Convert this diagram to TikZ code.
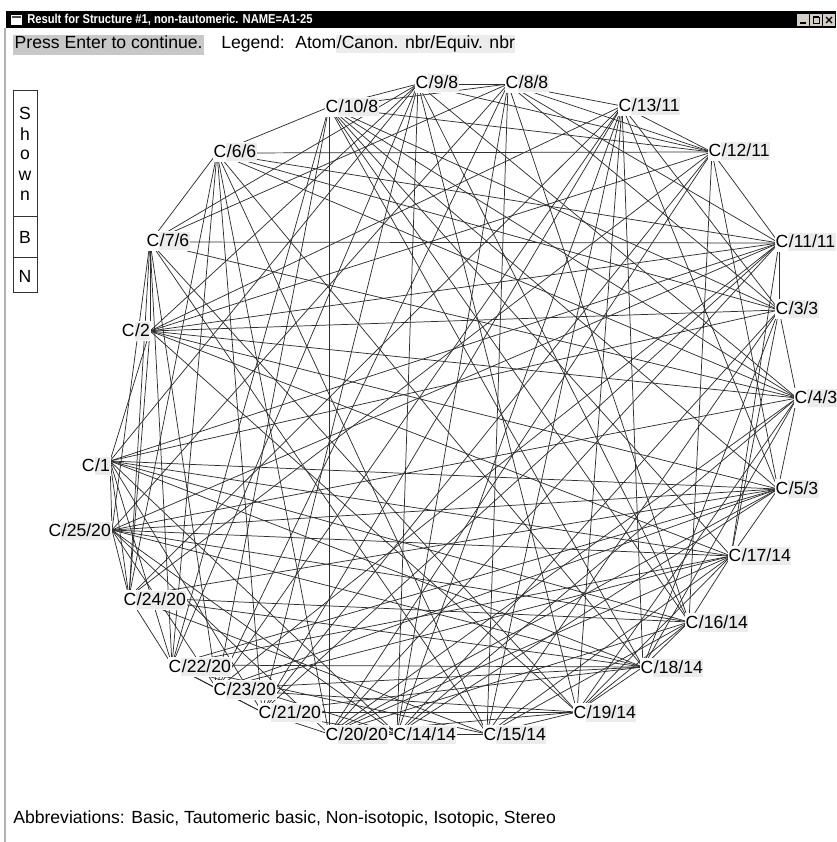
\documentclass[tikz,border=0pt]{standalone}
\usepackage{fontspec}
\setmainfont{Liberation Sans}
\usepackage{graphicx}
\definecolor{lg}{HTML}{ECECEC}
\definecolor{pg}{HTML}{C8C8C8}
\definecolor{bt}{HTML}{D4D0C8}
\newcommand{\gbx}[1]{{\setlength{\fboxsep}{0.4pt}\colorbox{lg}{\vrule height 10.4pt depth 2.6pt width 0pt #1}}}
\begin{document}
\begin{tikzpicture}[x=0.75pt,y=-0.75pt,
  every node/.style={font=\fontsize{13.2}{15}\selectfont, inner sep=0pt},
  edge/.style={draw=black!82, line width=0.55pt},
  lbl/.style={fill=white, inner sep=0.3pt},
  lw/.style={lbl, anchor=west},
  le/.style={lbl, anchor=east},
  letter/.style={anchor=center}]
\useasboundingbox (0,0) rectangle (836,842);
\fill[white] (0,0) rectangle (836,842);
% atom points
\coordinate (n9) at (418,84);
\coordinate (n8) at (508,84);
\coordinate (n10) at (329,107);
\coordinate (n13) at (622,106);
\coordinate (n6) at (217,153);
\coordinate (n12) at (712,152);
\coordinate (n7) at (150,242);
\coordinate (n11) at (779,243);
\coordinate (n3) at (779,310);
\coordinate (n2) at (150,331);
\coordinate (n4) at (797,398);
\coordinate (n1) at (110,461);
\coordinate (n5) at (778,489);
\coordinate (n25) at (112,530);
\coordinate (n17) at (731,556);
\coordinate (n24) at (129,597);
\coordinate (n16) at (689,622);
\coordinate (n22) at (172,665);
\coordinate (n18) at (643,667);
\coordinate (n23) at (217,689);
\coordinate (n19) at (577,712);
\coordinate (n21) at (262,712);
\coordinate (n20) at (329,734);
\coordinate (n14) at (397,734);
\coordinate (n15) at (487,734);
% bonds
\foreach \cl in {{9,4,2,19,7},{6,12,20,11,21},{13,15,8,14,3},{17,23,22,10,5},{25,1,18,24,16},
                 {9,12,8,10,16},{6,15,22,24,7},{13,23,18,19,21},{17,1,2,11,3},{25,4,20,14,5},
                 {9,1,22,14,21},{6,4,18,10,3},{13,12,2,24,5},{17,15,20,19,16},{25,23,8,11,7}}{
  \foreach \i in \cl {
    \foreach \j in \cl {
      \ifnum\i<\j \draw[edge] (n\i) -- (n\j); \fi
    }
  }
}
\foreach \a/\b in {10/20,1/5,25/17,22/18} \draw[edge] (n\a) -- (n\b);
% labels
\node[lw] (l9) at (415,83) {C\gbx{/9/8}};
\node[lw] (l8) at (505,83) {C\gbx{/8/8}};
\node[lw] (l10) at (325,107) {C\gbx{/10/8}};
\node[lw] (l13) at (618,106) {C\gbx{/13/11}};
\node[lw] (l6) at (213,152) {C\gbx{/6/6}};
\node[lw] (l12) at (708,151) {C\gbx{/12/11}};
\node[lw] (l7) at (146,241) {C\gbx{/7/6}};
\node[lw] (l11) at (775,242) {C\gbx{/11/11}};
\node[lw] (l3) at (775,309) {C\gbx{/3/3}};
\node[le] (l2) at (151,331) {C\gbx{/2}};
\node[lw] (l4) at (794,398) {C\gbx{/4/3}};
\node[le] (l1) at (111,466) {C\gbx{/1}};
\node[lw] (l5) at (775,489) {C\gbx{/5/3}};
\node[le] (l25) at (112,531) {C\gbx{/25/20}};
\node[lw] (l17) at (728,556) {C\gbx{/17/14}};
\node[lw] (l24) at (123,600) {C\gbx{/24/20}};
\node[lw] (l16) at (685,623) {C\gbx{/16/14}};
\node[lw] (l22) at (168,667) {C\gbx{/22/20}};
\node[lw] (l18) at (640,668) {C\gbx{/18/14}};
\node[lw] (l23) at (213,690) {C\gbx{/23/20}};
\node[lw] (l19) at (573,713) {C\gbx{/19/14}};
\node[lw] (l21) at (258,713) {C\gbx{/21/20}};
\node[lw] (l20) at (325,735) {C\gbx{/20/20}};
\node[lw] (l14) at (393,735) {C\gbx{/14/14}};
\node[lw] (l15) at (483,735) {C\gbx{/15/14}};
% window frame
\draw[black!30, line width=1.2pt] (5,28) -- (5,842);
\fill[black] (6,11) rectangle (836,28);
\fill[white] (11,15) rectangle (22,25);
\fill[black!70] (12,16) rectangle (21,18.5);
\node[anchor=west, text=white] (title) at (27,19.5) {\resizebox{214pt}{7pt}{\fontsize{10}{12}\selectfont\bfseries Result for Structure \#1, non-tautomeric. NAME=A1-25}};
\foreach \k in {0,1,2} \fill[bt] (797+13*\k,14) rectangle +(12,12);
\draw[black, line width=1.5pt] (800,23) -- (806,23);
\draw[black, line width=0.75pt] (813,17.5) rectangle (819,23.5);
\draw[black, line width=1.5pt] (813,17.5) -- (819,17.5);
\draw[black, line width=1pt] (826,17) -- (832,23) (826,23) -- (832,17);
% header texts
\node[anchor=base west, fill=pg, inner xsep=1.1pt, inner ysep=0pt] (press) at (13,49) {\vrule height 10.8pt depth 4.2pt width 0pt Press Enter to continue.};
\node[anchor=base west] (legend) at (221,49) {Legend:};
\node[anchor=base west] (legtext) at (295,49) {Atom\gbx{/Canon. nbr/Equiv. nbr}};
% side panel
\draw[black!80, line width=0.75pt] (13,91) rectangle (37,292);
\draw[black!80, line width=0.75pt] (13,216) -- (37,216) (13,257) -- (37,257);
\node[letter] (s1) at (25,113) {S};
\node[letter] (s2) at (25,134) {h};
\node[letter] (s3) at (25,155) {o};
\node[letter] (s4) at (25,176) {w};
\node[letter] (s5) at (25,196) {n};
\node[letter] (sb) at (25,237) {B};
\node[letter] (sn) at (25,276) {N};
% footer
\node[anchor=base west] (abbr) at (13,823) {Abbreviations: Basic, Tautomeric basic, Non-isotopic, Isotopic, Stereo};
\end{tikzpicture}
\end{document}
